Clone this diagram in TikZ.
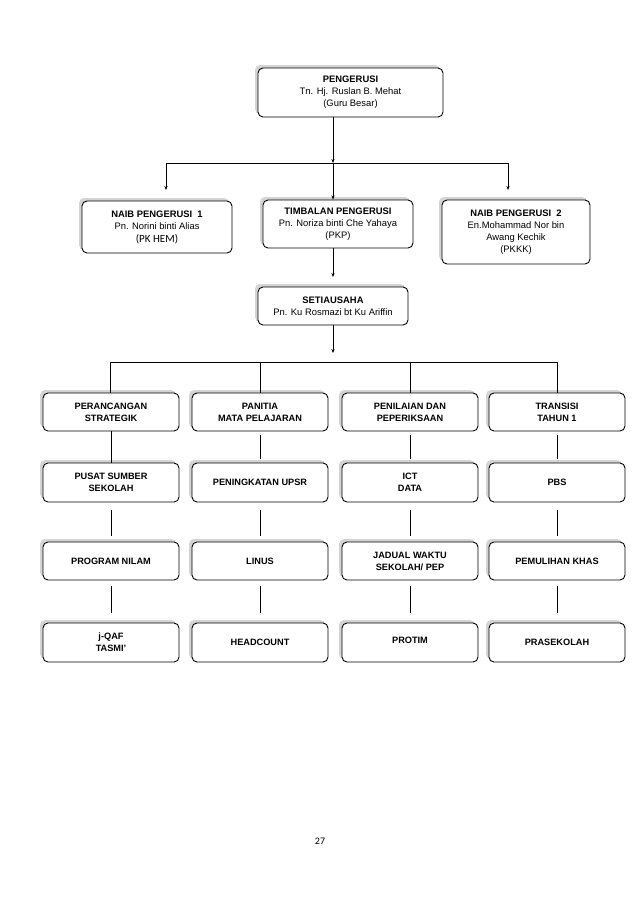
\documentclass[tikz,border=0pt]{standalone}
\usepackage{fontspec}
\setmainfont{Liberation Sans}
\newfontfamily\calib{Carlito}
\usetikzlibrary{arrows.meta,shadows,calc}
\begin{document}
\begin{tikzpicture}[x=1pt,y=-1pt,
  box/.style={draw=black, line width=0.9pt, rounded corners=5pt, fill=white,
    drop shadow={shadow xshift=-3pt, shadow yshift=3pt, fill=black!17, opacity=1},
    align=center, inner sep=0pt, font=\fontsize{9.4}{12}\selectfont},
  rowbox/.style={box, minimum width=136pt, minimum height=38pt, font=\fontsize{9.2}{12}\selectfont\bfseries},
  arr/.style={line width=0.8pt, -{Stealth[length=4pt,width=3.2pt]}},
  ln/.style={line width=0.8pt}]
\useasboundingbox[fill=white] (0,0) rectangle (638,903);

% top levels
\node[box, minimum width=185pt, minimum height=49pt] (peng) at (350.5,92.5)
  {\textbf{PENGERUSI}\\Tn. Hj. Ruslan B. Mehat\\(Guru Besar)};
\node[box, minimum width=150pt, minimum height=52pt] (naib1) at (157,227)
  {\textbf{NAIB PENGERUSI\ \ 1}\\Pn. Norini binti Alias\\[1pt]{\calib\fontsize{11}{12}\selectfont(PK HEM)}};
\node[box, minimum width=150pt, minimum height=48pt] (timb) at (338,224)
  {\textbf{TIMBALAN PENGERUSI}\\Pn. Noriza binti Che Yahaya\\(PKP)};
\node[box, minimum width=148pt, minimum height=64pt] (naib2) at (516,232)
  {\textbf{NAIB PENGERUSI\ \ 2}\\En.Mohammad Nor bin\\Awang Kechik\\(PKKK)};
\node[box, minimum width=150pt, minimum height=38pt] (setia) at (333,306)
  {\textbf{SETIAUSAHA}\\Pn. Ku Rosmazi bt Ku Ariffin};

% row 1
\node[rowbox] (a1) at (111,412) {PERANCANGAN\\STRATEGIK};
\node[rowbox] (b1) at (260,412) {PANITIA\\MATA PELAJARAN};
\node[rowbox] (c1) at (410,412) {PENILAIAN DAN\\PEPERIKSAAN};
\node[rowbox] (d1) at (557,412) {TRANSISI\\TAHUN 1};
% row 2
\node[rowbox, minimum height=39pt] (a2) at (111,482.5) {PUSAT SUMBER\\SEKOLAH};
\node[rowbox, minimum height=39pt] (b2) at (260,482.5) {PENINGKATAN UPSR};
\node[rowbox, minimum height=39pt] (c2) at (410,482.5) {ICT\\DATA};
\node[rowbox, minimum height=39pt] (d2) at (557,482.5) {PBS};
% row 3
\node[rowbox] (a3) at (111,561) {PROGRAM NILAM};
\node[rowbox] (b3) at (260,561) {\raisebox{-4pt}{LINUS}};
\node[rowbox] (c3) at (410,561) {JADUAL WAKTU\\SEKOLAH/ PEP};
\node[rowbox] (d3) at (557,561) {PEMULIHAN KHAS};
% row 4
\node[rowbox, minimum height=39pt] (a4) at (111,642.5) {j-QAF\\TASMI'};
\node[rowbox, minimum height=39pt] (b4) at (260,642.5) {HEADCOUNT};
\node[rowbox, minimum height=39pt] (c4) at (410,642.5) {\raisebox{4pt}{PROTIM}};
\node[rowbox, minimum height=39pt] (d4) at (557,642.5) {PRASEKOLAH};

% connectors top
\coordinate (j1) at (333,163);
\coordinate (t1) at (166,190);
\coordinate (t2) at (508,190);
\draw[arr] (peng.south -| j1) -- (j1);
\draw[arr] (j1) -- (timb.north -| j1);
\draw[arr] (j1) -| (t1);
\draw[arr] (j1) -| (t2);
\coordinate (s1) at (333,277);
\draw[arr] (timb.south -| s1) -- (s1);
\coordinate (s2) at (333,353);
\draw[arr] (setia.south -| s2) -- (s2);

% distribution line
\coordinate (h1) at (110,362);
\coordinate (h4) at (557,362);
\draw[ln] (h1) -- (h4);
\draw[ln] (h1) -- (a1.north -| h1);
\draw[ln] (b1.north |- h1) -- (b1.north);
\draw[ln] (c1.north |- h1) -- (c1.north);
\draw[ln] (h4) -- (d1.north);

% vertical links between rows
\draw[ln] (a1.south) -- (a2.north);
\foreach \n in {b,c,d}{
  \draw[ln, shorten <=4pt, shorten >=4pt] (\n1.south) -- (\n2.north);
}
\foreach \n in {a,b,c,d}{
  \draw[ln, shorten <=8pt, shorten >=6pt] (\n2.south) -- (\n3.north);
  \draw[ln, shorten <=6pt, shorten >=10pt] (\n3.south) -- (\n4.north);
}

\node[font=\calib\fontsize{10}{12}\selectfont] (pg) at (320,841) {27};
\end{tikzpicture}
\end{document}
